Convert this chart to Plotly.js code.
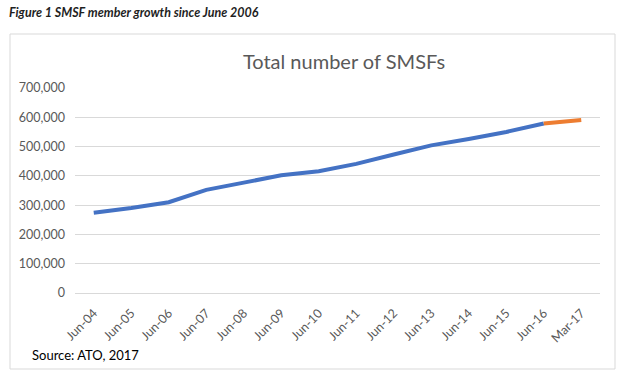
<!DOCTYPE html>
<html>
<head>
<meta charset="utf-8">
<script src="https://cdn.plot.ly/plotly-3.0.1.min.js"></script>
<style>html,body{margin:0;padding:0;background:#fff;}#chart{width:625px;height:381px;}</style>
</head>
<body>
<div id="chart"></div>
<script>
const categories = ["Jun-04","Jun-05","Jun-06","Jun-07","Jun-08","Jun-09","Jun-10","Jun-11","Jun-12","Jun-13","Jun-14","Jun-15","Jun-16","Mar-17"];
const actualValues = [274000, 290000, 310000, 352000, 377000, 402000, 416000, 441000, 473000, 504000, 526000, 550000, 579000, null];
const latestValues = [null, null, null, null, null, null, null, null, null, null, null, null, 579000, 591000];
const yTicks = [0, 100000, 200000, 300000, 400000, 500000, 600000, 700000];

const traces = [
  {x: categories, y: actualValues, type: 'scatter', mode: 'lines',
   line: {color: '#4472C4', width: 4}, hoverinfo: 'x+y', showlegend: false},
  {x: categories, y: latestValues, type: 'scatter', mode: 'lines',
   line: {color: '#ED7D31', width: 4}, hoverinfo: 'x+y', showlegend: false}
];

const font = "Lato, 'Open Sans', 'DejaVu Sans', sans-serif";
const layout = {
  width: 625, height: 381,
  paper_bgcolor: '#ffffff', plot_bgcolor: '#ffffff',
  margin: {l: 75, r: 25, t: 88, b: 88},
  font: {family: font, color: '#595959', size: 12},
  title: {text: 'Total number of SMSFs', font: {family: font, size: 20, color: '#595959'},
          x: 344/625, xanchor: 'center', y: 1 - 62/381, yanchor: 'middle', xref: 'container', yref: 'container'},
  xaxis: {type: 'category', range: [-0.5, categories.length - 0.5], tickangle: -45, showgrid: false,
          showline: true, linecolor: '#d9d9d9', linewidth: 1,
          ticks: 'outside', ticklen: 7, tickcolor: 'rgba(0,0,0,0)',
          tickfont: {family: font, size: 12.5, color: '#595959'}, fixedrange: true},
  yaxis: {range: [0, 700000], tickvals: yTicks, tickformat: ',', showgrid: true, gridcolor: '#d9d9d9',
          zeroline: false, showline: false, ticks: '', ticklabelstandoff: 9,
          tickfont: {family: font, size: 12.5, color: '#595959'}, fixedrange: true},
  shapes: [
    {type: 'rect', xref: 'paper', yref: 'paper',
     x0: (10-75)/525, x1: (615-75)/525, y0: (293-369)/205, y1: (293-34)/205,
     line: {color: '#d9d9d9', width: 1}, fillcolor: 'rgba(0,0,0,0)', layer: 'below'}
  ],
  annotations: [
    {text: '<b><i>Figure 1 SMSF member growth since June 2006</i></b>', xref: 'paper', yref: 'paper',
     x: (7-75)/525, xanchor: 'left', y: (293-13)/205, yanchor: 'middle', showarrow: false,
     font: {family: font, size: 12.5, color: '#1f1f1f'}},
    {text: 'Source: ATO, 2017', xref: 'paper', yref: 'paper',
     x: (30-75)/525, xanchor: 'left', y: (293-355)/205, yanchor: 'middle', showarrow: false,
     font: {family: font, size: 13, color: '#000000'}}
  ]
};

Plotly.newPlot('chart', traces, layout, {displayModeBar: false, staticPlot: true});
</script>
</body>
</html>
